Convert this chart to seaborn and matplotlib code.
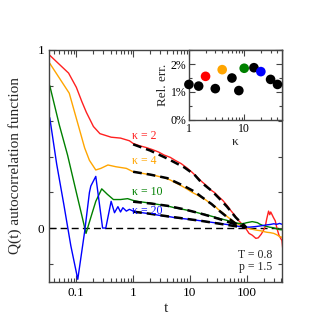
import numpy as np
import pandas as pd
import matplotlib
matplotlib.use("Agg")
import matplotlib.pyplot as plt
import seaborn as sns
from matplotlib.ticker import FixedLocator, MultipleLocator, LogLocator, NullFormatter

# ---------------- data ----------------
t_k2 = [0.034, 0.073, 0.1, 0.125, 0.15, 0.2, 0.26, 0.41, 0.6, 0.86, 1.0, 1.3, 1.7, 2.2, 2.8, 3.5,
        4.5, 5.5, 7, 9, 11, 13, 16, 19, 23, 27, 32, 38, 45, 52, 60, 70, 80, 90, 100, 110, 125,
        145, 160, 180, 200, 212, 225, 243, 255, 265, 278, 295, 319, 340, 370, 400, 418, 430, 440]
q_k2 = [0.97, 0.87, 0.79, 0.71, 0.65, 0.57, 0.53, 0.51, 0.505, 0.49, 0.475, 0.462, 0.452, 0.44,
        0.427, 0.41, 0.397, 0.38, 0.362, 0.336, 0.312, 0.29, 0.262, 0.242, 0.215, 0.2, 0.176,
        0.155, 0.127, 0.1, 0.076, 0.046, 0.027, 0.01, -0.01, -0.03, -0.04, -0.058, -0.055,
        -0.035, -0.01, 0.007, 0.05, 0.095, 0.075, 0.09, 0.077, 0.06, 0.04, 0.0, -0.04, -0.06,
        -0.07, -0.11, -0.085]

t_k4 = [0.034, 0.075, 0.112, 0.14, 0.17, 0.22, 0.27, 0.36, 0.5, 0.76, 1.0, 1.3, 1.7, 2.2, 2.8,
        3.5, 4.5, 5.5, 7, 9, 11, 13, 16, 19, 23, 27, 32, 38, 45, 52, 60, 70, 80, 95, 110, 130,
        150, 175, 200, 230, 260, 300, 340, 380, 420, 440]
q_k4 = [0.925, 0.757, 0.56, 0.45, 0.38, 0.326, 0.335, 0.354, 0.344, 0.335, 0.316, 0.31, 0.303,
        0.298, 0.29, 0.283, 0.27, 0.255, 0.238, 0.218, 0.2, 0.188, 0.172, 0.158, 0.138, 0.125,
        0.103, 0.085, 0.065, 0.05, 0.035, 0.022, 0.012, 0.004, -0.003, -0.008, -0.012, -0.015,
        -0.02, -0.024, -0.026, -0.03, -0.038, -0.048, -0.052, -0.055]

t_k10 = [0.034, 0.05, 0.07, 0.1, 0.125, 0.148, 0.18, 0.22, 0.28, 0.35, 0.45, 0.6, 0.8, 1.0, 1.3,
         1.7, 2.2, 2.8, 3.5, 4.5, 5.5, 7, 9, 11, 13, 16, 19, 23, 27, 32, 38, 45, 52, 60, 70, 80,
         90, 100, 112, 125, 140, 155, 170, 190, 220, 250, 290, 330, 370, 410, 440]
q_k10 = [0.80, 0.58, 0.41, 0.20, 0.07, -0.03, 0.06, 0.15, 0.22, 0.19, 0.16, 0.16, 0.165, 0.155,
         0.148, 0.143, 0.138, 0.132, 0.127, 0.12, 0.113, 0.107, 0.1, 0.093, 0.088, 0.08, 0.076,
         0.068, 0.062, 0.055, 0.049, 0.043, 0.037, 0.031, 0.027, 0.024, 0.026, 0.03, 0.033,
         0.036, 0.033, 0.03, 0.022, 0.015, 0.01, 0.005, 0.002, -0.003, -0.008, -0.01, -0.005]

t_k20 = [0.034, 0.045, 0.06, 0.08, 0.106, 0.14, 0.17, 0.18, 0.22, 0.29, 0.33, 0.41, 0.47, 0.54,
         0.6, 0.66, 0.76, 0.86, 1.0, 1.3, 1.7, 2.2, 2.8, 3.5, 4.5, 5.5, 7, 9, 11, 13, 16, 19, 23,
         27, 32, 38, 45, 52, 60, 70, 80, 95, 110, 130, 150, 175, 200, 230, 260, 300, 340, 380,
         410, 440]
q_k20 = [0.62, 0.36, 0.135, -0.1, -0.288, -0.02, 0.2, 0.236, 0.29, 0.0, 0.0, 0.15, 0.086, 0.12,
         0.09, 0.114, 0.095, 0.105, 0.095, 0.088, 0.083, 0.078, 0.072, 0.067, 0.063, 0.058,
         0.054, 0.05, 0.047, 0.044, 0.04, 0.037, 0.033, 0.03, 0.027, 0.023, 0.02, 0.016, 0.013,
         0.01, 0.008, 0.006, 0.005, 0.007, 0.009, 0.012, 0.015, 0.018, 0.02, 0.024, 0.021,
         0.026, 0.022, 0.02]

# stretched-exponential fits
tf_k2 = [1, 2, 4, 8, 12, 16, 24, 32, 45, 64, 80, 95]
qf_k2 = [0.47, 0.435, 0.39, 0.34, 0.30, 0.255, 0.21, 0.17, 0.12, 0.06, 0.03, 0.01]
tf_k4 = [1, 2, 4, 8, 12, 16, 24, 32, 48, 70]
qf_k4 = [0.316, 0.30, 0.28, 0.235, 0.205, 0.175, 0.135, 0.10, 0.055, 0.015]
tf_k10 = [1, 2, 4, 8, 16, 32, 64, 100]
qf_k10 = [0.148, 0.138, 0.125, 0.105, 0.08, 0.052, 0.02, 0.005]
tf_k20 = [1, 2, 4, 8, 16, 32, 64, 100]
qf_k20 = [0.092, 0.08, 0.066, 0.053, 0.04, 0.025, 0.01, 0.003]

labels = ["κ = 2", "κ = 4", "κ = 10", "κ = 20"]
label_q = [0.517, 0.376, 0.2, 0.095]

# inset: relative error vs kappa
kappa = [1, 1.5, 2, 3, 4, 6, 8, 10, 15, 20, 30, 40]
rel_err = [1.27, 1.21, 1.56, 1.12, 1.80, 1.50, 1.05, 1.85, 1.87, 1.73, 1.45, 1.27]
err_col = ["black", "black", "red", "black", "orange", "black", "black", "green",
           "black", "blue", "black", "black"]

xticks_main = [0.1, 1, 10, 100]
xtick_labels_main = ["0.1", "1", "10", "100"]

# ---------------- style ----------------
sns.set_style("ticks")
plt.rcParams["font.family"] = ["Liberation Serif", "DejaVu Serif"]
plt.rcParams["axes.edgecolor"] = "#444444"
plt.rcParams["xtick.color"] = "#444444"
plt.rcParams["ytick.color"] = "#444444"
plt.rcParams["xtick.labelcolor"] = "black"
plt.rcParams["ytick.labelcolor"] = "black"

fig = plt.figure(figsize=(3.32, 3.32), dpi=100)
ax = fig.add_axes([0.1476, 0.1506, 0.702, 0.699])

colors = ["#ff2020", "#ffa500", "#008000", "#0000ff"]
series = [(t_k2, q_k2), (t_k4, q_k4), (t_k10, q_k10), (t_k20, q_k20)]
fits = [(tf_k2, qf_k2), (tf_k4, qf_k4), (tf_k10, qf_k10), (tf_k20, qf_k20)]

ax.axhline(0, color="black", lw=1.0, ls=(0, (5, 3)), zorder=1)

for (t, q), c in zip(series, colors):
    df = pd.DataFrame({"t": t, "Q": q})
    sns.lineplot(data=df, x="t", y="Q", ax=ax, color=c, lw=1.0, sort=False,
                 estimator=None, legend=False, zorder=2)

for (t, q) in fits:
    df = pd.DataFrame({"t": t, "Q": q})
    sns.lineplot(data=df, x="t", y="Q", ax=ax, color="black", lw=1.8, sort=False,
                 estimator=None, legend=False, linestyle=(0, (3.5, 2)), zorder=3)

for lab, yq, c in zip(labels, label_q, colors):
    ax.text(0.95, yq, lab, color=c, fontsize=8.5, ha="left", va="center", zorder=4)

ax.text(0.96, 0.116, "T = 0.8", transform=ax.transAxes, ha="right", va="center", fontsize=8.5)
ax.text(0.96, 0.065, "p = 1.5", transform=ax.transAxes, ha="right", va="center", fontsize=8.5)

ax.set_xscale("log")
ax.set_xlim(0.033, 420)
ax.set_ylim(-0.303, 1.0)
ax.xaxis.set_major_locator(FixedLocator(xticks_main))
ax.set_xticklabels(xtick_labels_main)
ax.xaxis.set_minor_locator(LogLocator(base=10, subs=np.arange(2, 10)))
ax.xaxis.set_minor_formatter(NullFormatter())
ax.set_yticks([0, 1])
ax.set_yticklabels(["0", "1"])
ax.yaxis.set_minor_locator(MultipleLocator(0.2))
ax.tick_params(which="both", direction="in", top=True, right=True, labelsize=9.5, width=0.8)
ax.tick_params(which="major", length=5)
ax.tick_params(which="minor", length=2.8)
for s in ax.spines.values():
    s.set_linewidth(1.0)
ax.set_xlabel("t", fontsize=11)
ax.set_ylabel("Q(t) autocorrelation function", fontsize=11)
ax.xaxis.set_label_coords(0.5, -0.085)
ax.yaxis.set_label_coords(-0.115, 0.5)

# ---------------- inset ----------------
ax2 = fig.add_axes([0.569, 0.639, 0.28, 0.21])
dfi = pd.DataFrame({"kappa": kappa, "err": rel_err, "col": err_col})
sns.scatterplot(data=dfi, x="kappa", y="err", hue="col",
                palette={c: c for c in set(err_col)}, s=48, edgecolor="none",
                legend=False, ax=ax2, clip_on=False, zorder=5)
ax2.set_xscale("log")
ax2.set_xlim(1, 48)
ax2.set_ylim(0, 2.5)
ax2.xaxis.set_major_locator(FixedLocator([1, 10]))
ax2.set_xticklabels(["1", "10"])
ax2.xaxis.set_minor_locator(LogLocator(base=10, subs=np.arange(2, 10)))
ax2.xaxis.set_minor_formatter(NullFormatter())
ax2.set_yticks([0, 1, 2])
ax2.set_yticklabels(["0%", "1%", "2%"])
ax2.yaxis.set_minor_locator(MultipleLocator(0.5))
ax2.tick_params(which="both", direction="in", top=True, right=True, labelsize=8.5,
                width=0.8, pad=2)
ax2.tick_params(which="major", length=4)
ax2.tick_params(which="minor", length=2.2)
for s in ax2.spines.values():
    s.set_linewidth(1.0)
ax2.set_xlabel("κ", fontsize=9.5, labelpad=1)
ax2.set_ylabel("Rel. err.", fontsize=9.5, labelpad=1)

fig.savefig("out.png", dpi=100)
